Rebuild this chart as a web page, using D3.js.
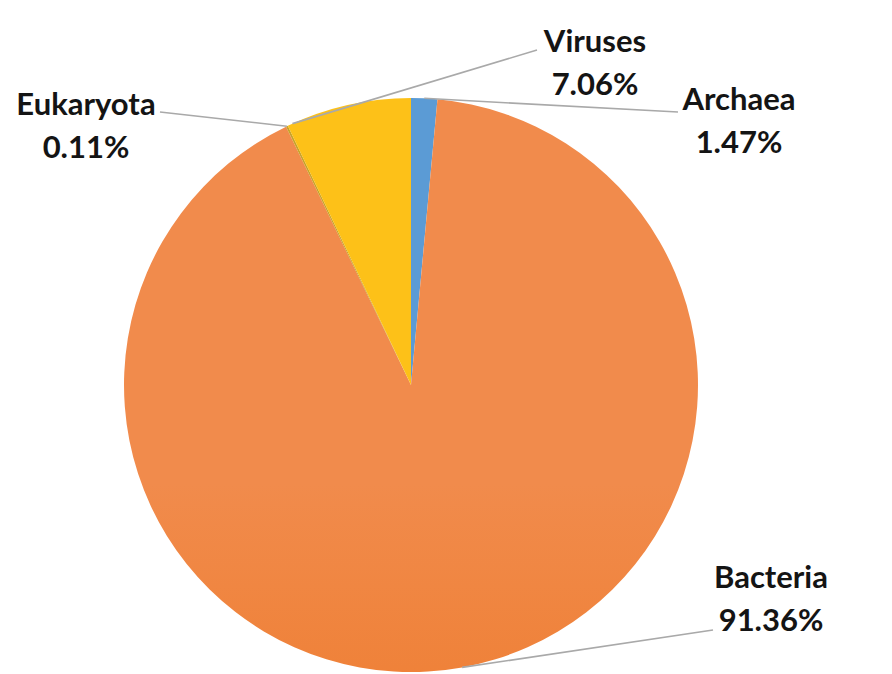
<!DOCTYPE html>
<html>
<head>
<meta charset="utf-8">
<script src="https://cdn.jsdelivr.net/npm/d3@7"></script>
<style>
  html, body { margin: 0; padding: 0; background: #fff; }
  svg { display: block; }
  .lbl { font-family: Lato, "Open Sans", sans-serif; font-weight: 700; font-size: 31px; fill: #141414; }
</style>
</head>
<body>
<svg id="chart" width="892" height="674"></svg>
<script>
// Domain shares of the sample (percent), clockwise from 12 o'clock
const categories = ["Archaea", "Bacteria", "Eukaryota", "Viruses"];
const shares = [1.47, 91.36, 0.11, 7.06];

// Label layout: text centre x, first-line baseline y, leader end, and where the leader touches the rim
const labelLayout = [
  { x: 739, y: 110, lineEnd: [678, 112], rimAt: 0.5 },
  { x: 771, y: 588, lineEnd: [713, 630], rimAt: 0.5 },
  { x: 86,  y: 115, lineEnd: [160, 112], rimAt: 0.5 },
  { x: 595, y: 52,  lineEnd: [537, 50],  rimAt: 0.04 }
];

const cx = 411, cy = 385, R = 287;

const svg = d3.select("#chart");
const defs = svg.append("defs");

const grad = defs.append("linearGradient")
  .attr("id", "bacteriaFill")
  .attr("gradientUnits", "userSpaceOnUse")
  .attr("x1", 0).attr("y1", cy - R).attr("x2", 0).attr("y2", cy + R);
grad.append("stop").attr("offset", "0%").attr("stop-color", "#F18B4C");
grad.append("stop").attr("offset", "50%").attr("stop-color", "#EE7D30");
grad.append("stop").attr("offset", "100%").attr("stop-color", "#E2660F");

const color = d3.scaleOrdinal()
  .domain(categories)
  .range(["#5B9BD5", "url(#bacteriaFill)", "#C9A227", "#FDC118"]);

const data = categories.map((c, i) => ({ name: c, value: shares[i], layout: labelLayout[i] }));

const pie = d3.pie().value(d => d.value).sort(null);
const arcs = pie(data);
const arc = d3.arc().innerRadius(0).outerRadius(R);

const g = svg.append("g").attr("transform", `translate(${cx},${cy})`);

g.selectAll("path.slice")
  .data(arcs)
  .join("path")
  .attr("class", "slice")
  .attr("d", arc)
  .attr("fill", d => color(d.data.name));

// leader lines from the rim of each slice to its label
const rimPoint = d => {
  const a = d.startAngle + (d.endAngle - d.startAngle) * d.data.layout.rimAt;
  return [cx + R * Math.sin(a), cy - R * Math.cos(a)];
};

svg.selectAll("line.leader")
  .data(arcs)
  .join("line")
  .attr("class", "leader")
  .attr("x1", d => rimPoint(d)[0])
  .attr("y1", d => rimPoint(d)[1])
  .attr("x2", d => d.data.layout.lineEnd[0])
  .attr("y2", d => d.data.layout.lineEnd[1])
  .attr("stroke", "#A9A9A9")
  .attr("stroke-width", 1.6);

// two-line labels: name and share
const labels = svg.selectAll("text.lbl")
  .data(arcs)
  .join("text")
  .attr("class", "lbl")
  .attr("text-anchor", "middle")
  .attr("x", d => d.data.layout.x)
  .attr("y", d => d.data.layout.y);

labels.append("tspan")
  .attr("x", d => d.data.layout.x)
  .text(d => d.data.name);
labels.append("tspan")
  .attr("x", d => d.data.layout.x)
  .attr("dy", 43)
  .text(d => d.data.value.toFixed(2) + "%");
</script>
</body>
</html>
